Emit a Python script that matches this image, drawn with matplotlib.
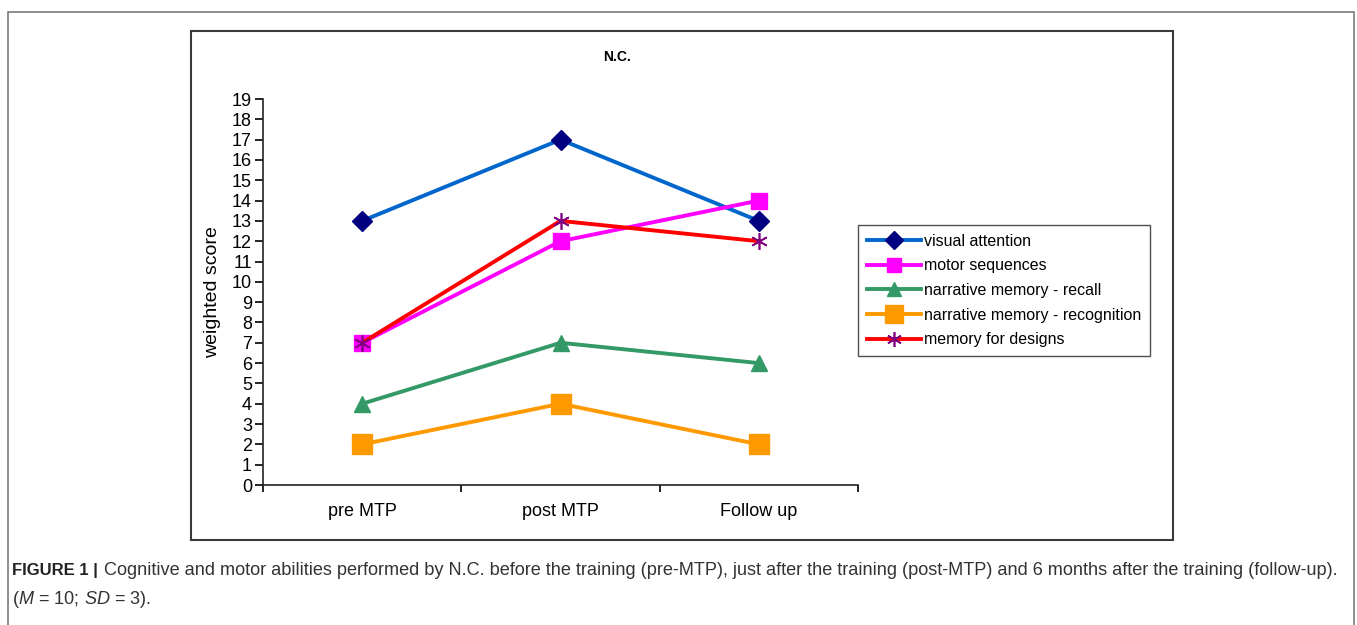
import matplotlib
matplotlib.use("Agg")
import matplotlib.pyplot as plt
from matplotlib.patches import Rectangle

plt.rcParams['font.family'] = ['Liberation Sans', 'DejaVu Sans']
plt.rcParams['mathtext.fontset'] = 'custom'
plt.rcParams['mathtext.it'] = 'Liberation Sans:italic'
plt.rcParams['mathtext.rm'] = 'Liberation Sans'

categories = ["pre MTP", "post MTP", "Follow up"]
visual_attention = [13, 17, 13]
motor_sequences = [7, 12, 14]
recall = [4, 7, 6]
recognition = [2, 4, 2]
designs = [7, 13, 12]
yticks = list(range(0, 20))

fig = plt.figure(figsize=(13.57, 6.25), dpi=100)
W, H = 1357, 625

def fx(px):
    return px / W

def fy(py):
    return 1 - py / H

# outer frame
fig.patches.append(Rectangle((fx(8), fy(640)), fx(1354 - 8), fy(12) - fy(640),
                             transform=fig.transFigure, fill=False,
                             edgecolor='#7a7a7a', lw=1.2, clip_on=False))
# inner chart frame
fig.patches.append(Rectangle((fx(191), fy(540)), fx(1173 - 191), fy(31) - fy(540),
                             transform=fig.transFigure, fill=False,
                             edgecolor='#3a3a3a', lw=1.5))

ax = fig.add_axes([fx(263), fy(485), fx(858 - 263), fy(99) - fy(485)])
x = [0.5, 1.5, 2.5]
lw = 2.8
ax.plot(x, visual_attention, color='#0066CC', lw=lw, marker='D', ms=10,
        mfc='#000080', mec='#000080', label='visual attention', zorder=3)
ax.plot(x, motor_sequences, color='#FF00FF', lw=lw, marker='s', ms=11,
        mfc='#FF00FF', mec='#FF00FF', label='motor sequences', zorder=3)
ax.plot(x, recall, color='#339966', lw=lw, marker='^', ms=11,
        mfc='#339966', mec='#339966', label='narrative memory - recall', zorder=3)
ax.plot(x, recognition, color='#FF9900', lw=lw, marker='s', ms=15,
        mfc='#FF9900', mec='#FF9900', label='narrative memory - recognition', zorder=3)
ax.plot(x, designs, color='#FF0000', lw=lw, marker=(6, 2, 0), ms=12,
        mfc='#800080', mec='#800080', mew=1.2, label='memory for designs', zorder=4)

ax.set_xlim(0, 3)
ax.set_ylim(0, 19)
ax.set_yticks(yticks)
ax.set_yticklabels([str(v) for v in yticks], fontsize=13)
ax.set_xticks([0, 1, 2, 3])
ax.set_xticklabels([])
ax.set_xticks(x, minor=True)
ax.set_xticklabels(categories, minor=True, fontsize=13)
ax.tick_params(axis='x', which='minor', length=0, pad=13)
ax.tick_params(axis='x', which='major', length=5, direction='out', width=1.2)
ax.tick_params(axis='y', length=6, direction='out', width=1.2, pad=2)
for s in ['top', 'right']:
    ax.spines[s].set_visible(False)
for s in ['left', 'bottom']:
    ax.spines[s].set_color('#222222')
    ax.spines[s].set_linewidth(1.2)
ax.set_ylabel('weighted score', fontsize=14, labelpad=8)
ax.patch.set_alpha(0)

fig.text(fx(617), fy(57), 'N.C.', fontsize=10, fontweight='bold',
         ha='center', va='center')

leg = fig.legend(loc='upper left', bbox_to_anchor=(fx(858), fy(225)),
                 borderaxespad=0,
                 fontsize=11.5, frameon=True, fancybox=False, handlelength=3.4,
                 borderpad=0.55, labelspacing=0.6, handletextpad=0.2,
                 markerscale=0.9)
leg.get_frame().set_edgecolor('#222222')
leg.get_frame().set_linewidth(1.0)

fig.text(fx(12), fy(575), 'FIGURE 1 |', fontsize=12, fontweight='bold',
         ha='left', va='baseline', color='#222222')
fig.text(fx(104), fy(575),
         'Cognitive and motor abilities performed by N.C. before the training (pre-MTP), '
         'just after the training (post-MTP) and 6 months after the training (follow-up).',
         fontsize=13.1, ha='left', va='baseline', color='#333333')
fig.text(fx(12), fy(604), r'($M$ = 10; $SD$ = 3).', fontsize=13.1,
         ha='left', va='baseline', color='#333333')

fig.savefig('out.png', dpi=100)
